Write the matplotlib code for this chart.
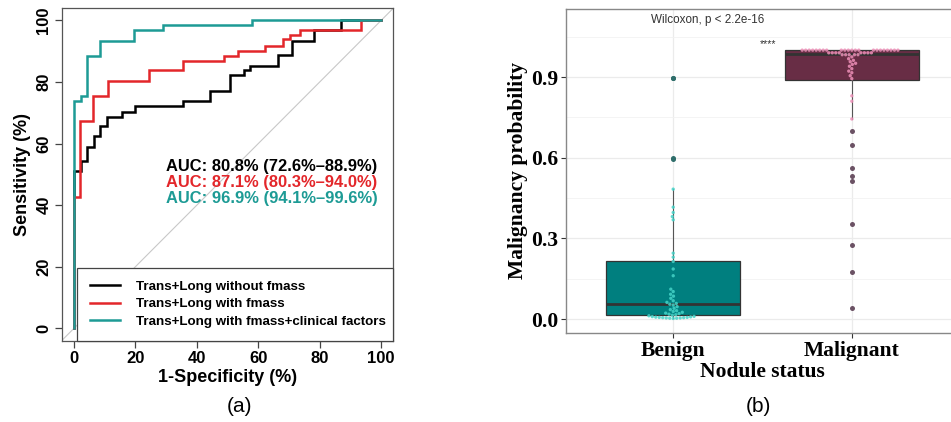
import matplotlib
matplotlib.use("Agg")
import matplotlib.pyplot as plt
import numpy as np
import seaborn as sns

# ---------------- Panel (a): ROC curves (values in %) ----------------
black_fpr = [0, 0, 2.3, 2.3, 4.3, 4.3, 6.4, 6.4, 8.5, 8.5, 10.6, 10.6, 15.5, 15.5,
             19.9, 19.9, 35.6, 35.6, 44.3, 44.3, 50.8, 50.8, 55.4, 55.4, 57.3, 57.3,
             66.5, 66.5, 71.0, 71.0, 78.0, 78.0, 86.9, 86.9, 100]
black_tpr = [0, 51.0, 51.0, 54.2, 54.2, 59.0, 59.0, 62.5, 62.5, 65.7, 65.7, 68.8, 68.8,
             70.4, 70.4, 72.3, 72.3, 73.9, 73.9, 77.1, 77.1, 82.3, 82.3, 83.8, 83.8,
             85.2, 85.2, 88.8, 88.8, 93.5, 93.5, 96.9, 96.9, 100, 100]

red_fpr = [0, 0, 2.1, 2.1, 6.3, 6.3, 11.0, 11.0, 24.5, 24.5, 35.5, 35.5, 49.0, 49.0,
           53.5, 53.5, 62.3, 62.3, 68.0, 68.0, 70.5, 70.5, 73.5, 73.5, 93.5, 93.5, 100]
red_tpr = [0, 42.7, 42.7, 67.2, 67.2, 75.5, 75.5, 80.5, 80.5, 83.8, 83.8, 86.9, 86.9,
           88.6, 88.6, 90.2, 90.2, 91.8, 91.8, 93.9, 93.9, 95.3, 95.3, 96.9, 96.9, 100, 100]

teal_fpr = [0, 0, 2.2, 2.2, 4.1, 4.1, 8.5, 8.5, 19.5, 19.5, 29.0, 29.0, 58.0, 58.0, 100]
teal_tpr = [0, 74.0, 74.0, 75.5, 75.5, 88.5, 88.5, 93.5, 93.5, 97.0, 97.0, 98.5, 98.5, 100, 100]

roc_labels = ["Trans+Long without fmass", "Trans+Long with fmass",
              "Trans+Long with fmass+clinical factors"]
auc_texts = ["AUC: 80.8% (72.6%\u201388.9%)", "AUC: 87.1% (80.3%\u201394.0%)",
             "AUC: 96.9% (94.1%\u201399.6%)"]
roc_colors = ["#000000", "#E3262A", "#1D9B95"]
axis_ticks_a = [0, 20, 40, 60, 80, 100]

# ---------------- Panel (b): box + beeswarm ----------------
categories = ["Benign", "Malignant"]
benign_probs = [0.002, 0.003, 0.003, 0.004, 0.004, 0.005, 0.005, 0.006, 0.006, 0.007,
                0.008, 0.009, 0.010, 0.012, 0.014, 0.016, 0.018, 0.020, 0.022, 0.025,
                0.028, 0.031, 0.035, 0.040, 0.046, 0.052, 0.055, 0.058, 0.062, 0.068,
                0.077, 0.085, 0.092, 0.102, 0.111, 0.161, 0.186, 0.214, 0.230, 0.245,
                0.369, 0.381, 0.396, 0.416, 0.483]
malignant_probs = ([1.0] * 22 + [0.990] * 8 + [0.983] * 5 +
                   [0.975, 0.968, 0.962, 0.957, 0.951, 0.947, 0.940, 0.931, 0.922,
                    0.916, 0.905, 0.894, 0.830, 0.810, 0.744])
box_q1 = [0.015, 0.890]
box_median = [0.055, 0.985]
box_q3 = [0.215, 1.000]
whisker_low = [0.002, 0.744]
whisker_high = [0.483, 1.000]
outliers_benign = [0.595, 0.598, 0.895, 0.898]
outliers_malignant = [0.701, 0.647, 0.561, 0.531, 0.512, 0.354, 0.276, 0.176, 0.041]
y_ticks_b = [0.0, 0.3, 0.6, 0.9]
y_ticklabels_b = ["0.0", "0.3", "0.6", "0.9"]

box_fill = ["#007F7F", "#682D45"]
point_colors = {"Benign": "#45D3C8", "Malignant": "#EE8FB8"}
outlier_colors = ["#2F6E6B", "#6B5264"]

SANS = "Liberation Sans"
SERIF = "Liberation Serif"

fig = plt.figure(figsize=(9.51, 4.22), dpi=100)

# ================= Panel (a) =================
axa = fig.add_axes([0.0649, 0.1929, 0.3487, 0.7877])
axa.set_xlim(-4, 104)
axa.set_ylim(-4, 104)
axa.axline((0, 0), (100, 100), color="#C8C8C8", lw=0.8, zorder=1)
handles = []
for fx, ty, col, lab in zip([black_fpr, red_fpr, teal_fpr], [black_tpr, red_tpr, teal_tpr],
                            roc_colors, roc_labels):
    ln, = axa.plot(fx, ty, color=col, lw=1.8, label=lab, zorder=2,
                   solid_joinstyle="miter")
    handles.append(ln)

for i, (txt, col) in enumerate(zip(auc_texts, roc_colors)):
    axa.text(30, 52.5 - 5.2 * i, txt, color=col, fontsize=11.9, fontweight="bold",
             family=SANS, ha="left", va="center", zorder=4)

x0 = (1 - (-4)) / 108.0
leg = axa.legend(handles=handles, loc="lower left", bbox_to_anchor=(x0, 0, 1 - x0, 0.22),
                 mode="expand", borderaxespad=0, fancybox=False, framealpha=1,
                 edgecolor="#444444", handlelength=2.3, handletextpad=1.2,
                 borderpad=0.95, labelspacing=0.4,
                 prop={"family": SANS, "weight": "bold", "size": 9.6})
leg.get_frame().set_linewidth(0.9)
leg.set_zorder(5)

axa.set_xticks(axis_ticks_a)
axa.set_yticks(axis_ticks_a)
axa.set_xticklabels([str(t) for t in axis_ticks_a], fontsize=12, fontweight="bold", family=SANS)
axa.set_yticklabels([str(t) for t in axis_ticks_a], fontsize=12, fontweight="bold", family=SANS,
                    rotation=90, va="center")
axa.tick_params(direction="out", length=5, width=0.9, color="#444444", pad=2.5)
for s in axa.spines.values():
    s.set_color("#555555")
    s.set_linewidth(0.9)
axa.set_xlabel("1-Specificity (%)", fontsize=13, fontweight="bold", family=SANS, labelpad=2.5)
axa.set_ylabel("Sensitivity (%)", fontsize=13, fontweight="bold", family=SANS, labelpad=4)

fig.text(240 / 951, 1 - 407 / 422, "(a)", fontsize=15, family=SANS, ha="center", va="center")

# ================= Panel (b) =================
axb = fig.add_axes([0.5952, 0.2109, 0.4132, 0.7678])
axb.set_facecolor("white")

stats = []
for i in range(2):
    stats.append({"q1": box_q1[i], "med": box_median[i], "q3": box_q3[i],
                  "whislo": whisker_low[i], "whishi": whisker_high[i],
                  "fliers": [outliers_benign, outliers_malignant][i]})
bp = axb.bxp(stats, positions=[0, 1], widths=0.75, patch_artist=True, showcaps=False,
             boxprops={"edgecolor": "#333333", "linewidth": 0.9},
             medianprops={"color": "#333333", "linewidth": 2.0},
             whiskerprops={"color": "#555555", "linewidth": 0.8},
             flierprops={"marker": "o", "markersize": 3.6, "markeredgewidth": 0},
             zorder=2)
for patch, fc in zip(bp["boxes"], box_fill):
    patch.set_facecolor(fc)
for fl, oc in zip(bp["fliers"], outlier_colors):
    fl.set_markerfacecolor(oc)
    fl.set_markeredgecolor(oc)
    fl.set_zorder(3)

cat_values = ["Benign"] * len(benign_probs) + ["Malignant"] * len(malignant_probs)
all_values = benign_probs + malignant_probs
sns.swarmplot(x=cat_values, y=all_values, hue=cat_values, order=categories,
              palette=point_colors, size=2.4, linewidth=0, alpha=0.85, legend=False,
              ax=axb, zorder=4)

axb.set_xlim(-0.6, 1.6)
axb.set_ylim(-0.052, 1.153)
axb.set_yticks(y_ticks_b)
axb.set_yticks([0.15, 0.45, 0.75, 1.05], minor=True)
axb.set_yticklabels(y_ticklabels_b, fontsize=15.5, fontweight="bold", family=SERIF)
axb.set_xticks([0, 1])
axb.set_xticklabels(categories, fontsize=15.5, fontweight="bold", family=SERIF)
axb.grid(True, which="major", axis="both", color="#EBEBEB", lw=0.9, zorder=0)
axb.grid(True, which="minor", axis="y", color="#F2F2F2", lw=0.6, zorder=0)
axb.set_axisbelow(True)
axb.tick_params(which="major", direction="out", length=3.5, width=0.8, color="#333333", pad=2)
axb.tick_params(which="minor", length=0)
for s in axb.spines.values():
    s.set_color("#888888")
    s.set_linewidth(1.0)
axb.set_xlabel("Nodule status", fontsize=15.5, fontweight="bold", family=SERIF, labelpad=1)
axb.set_ylabel("Malignancy probability", fontsize=15.5, fontweight="bold", family=SERIF,
               labelpad=2)

axb.text(-0.123, 1.111, "Wilcoxon, p < 2.2e-16", fontsize=8.4, family=SANS, color="#333333",
         ha="left", va="center")
axb.text(0.53, 1.021, "****", fontsize=7.5, family=SANS, color="#333333",
         ha="center", va="center")

fig.text(758 / 951, 1 - 407 / 422, "(b)", fontsize=15, family=SANS, ha="center", va="center")

fig.savefig("out.png", dpi=100)
